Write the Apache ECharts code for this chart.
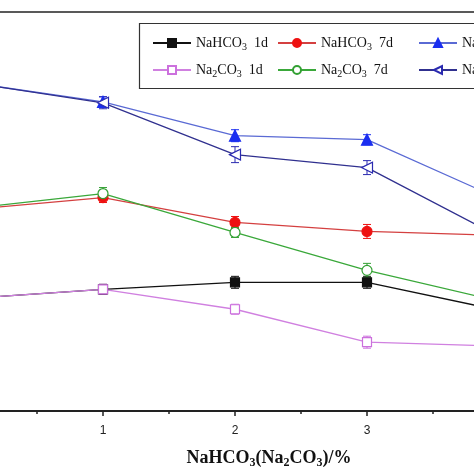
<!DOCTYPE html>
<html><head><meta charset="utf-8">
<script src="https://cdn.jsdelivr.net/npm/echarts@6/dist/echarts.min.js"></script>
<style>html,body{margin:0;padding:0;background:#fff}#c{width:474px;height:474px}</style>
</head><body><div id="c"></div>
<script>
// Data (x = dosage %, y = strength in arbitrary units)
const xValues = [0, 1, 2, 3, 4];
const xTicks = [1, 2, 3];
const xMinorTicks = [0.5, 1.5, 2.5, 3.5];
const nahco3_1d  = [11.3, 12.2, 12.9, 12.9, 10.1];
const nahco3_7d  = [20.2, 21.4, 18.9, 18.0, 17.6];
const nahco3_28d = [32.9, 31.0, 27.6, 27.2, 21.3];
const na2co3_1d  = [11.3, 12.2, 10.2, 6.9, 6.5];
const na2co3_7d  = [20.3, 21.8, 17.9, 14.1, 11.0];
const na2co3_28d = [32.9, 30.9, 25.7, 24.4, 17.5];
const err_nahco3_1d  = [0.5, 0.5, 0.6, 0.6, 0.5];
const err_nahco3_7d  = [0.5, 0.5, 0.6, 0.7, 0.5];
const err_nahco3_28d = [0.5, 0.5, 0.6, 0.5, 0.5];
const err_na2co3_1d  = [0.5, 0.5, 0.5, 0.6, 0.5];
const err_na2co3_7d  = [0.5, 0.6, 0.5, 0.7, 0.5];
const err_na2co3_28d = [0.5, 0.6, 0.8, 0.7, 0.5];
const names = ['NaHCO3 1d','NaHCO3 7d','NaHCO3 28d','Na2CO3 1d','Na2CO3 7d','Na2CO3 28d'];
const legendRich = {
  'NaHCO3 1d':  '{a|NaHCO}{s|3}{a|  1d}',
  'NaHCO3 7d':  '{a|NaHCO}{s|3}{a|  7d}',
  'NaHCO3 28d': '{a|NaHCO}{s|3}{a|  28d}',
  'Na2CO3 1d':  '{a|Na}{s|2}{a|CO}{s|3}{a|  1d}',
  'Na2CO3 7d':  '{a|Na}{s|2}{a|CO}{s|3}{a|  7d}',
  'Na2CO3 28d': '{a|Na}{s|2}{a|CO}{s|3}{a|  28d}'
};
// visible window of the x axis (the figure is a crop of a wider plot)
const xMin = 0.2197, xMax = 3.8106;

const styles = [
  {line:'#111111', mark:'#111111', sym:'rect', size:9, fill:'#111111', rot:0},
  {line:'#d44040', mark:'#ee1111', sym:'circle', size:10, fill:'#ee1111', rot:0},
  {line:'#5a6ad4', mark:'#1a2ef0', sym:'triangle', size:11, fill:'#1a2ef0', rot:0},
  {line:'#d080e0', mark:'#cc70dd', sym:'rect', size:9, fill:'#ffffff', rot:0},
  {line:'#3aa83a', mark:'#33a033', sym:'circle', size:10, fill:'#ffffff', rot:0},
  {line:'#30308f', mark:'#2a2ab0', sym:'triangle', size:11, fill:'#ffffff', rot:90}
];
const dataSets = [nahco3_1d, nahco3_7d, nahco3_28d, na2co3_1d, na2co3_7d, na2co3_28d];
const errSets = [err_nahco3_1d, err_nahco3_7d, err_nahco3_28d, err_na2co3_1d, err_na2co3_7d, err_na2co3_28d];

const series = [];
dataSets.forEach((d, i) => {
  const st = styles[i];
  series.push({
    type: 'custom', name: names[i] + ' err', silent: true, z: 3, clip: true,
    data: xValues.map((x, k) => [x, d[k], errSets[i][k]]),
    renderItem: function (params, api) {
      const x = api.value(0), y = api.value(1), e = api.value(2);
      const top = api.coord([x, y + e]);
      const bot = api.coord([x, y - e]);
      const w = 4;
      const s = {stroke: st.mark, lineWidth: 1};
      return {type: 'group', children: [
        {type:'line', shape:{x1:top[0], y1:top[1], x2:bot[0], y2:bot[1]}, style:s},
        {type:'line', shape:{x1:top[0]-w, y1:top[1], x2:top[0]+w, y2:top[1]}, style:s},
        {type:'line', shape:{x1:bot[0]-w, y1:bot[1], x2:bot[0]+w, y2:bot[1]}, style:s}
      ]};
    }
  });
  series.push({
    type: 'line', name: names[i], z: 4,
    data: xValues.map((x, k) => [x, d[k]]),
    symbol: st.sym, symbolSize: st.size, symbolRotate: st.rot,
    showAllSymbol: true, clip: true,
    lineStyle: {color: st.line, width: 1.3},
    itemStyle: {color: st.fill, borderColor: st.mark, borderWidth: 1.2},
    emphasis: {disabled: true},
    animation: false
  });
});

const legendPos = [[152, 34], [277, 34], [418, 34], [152, 61], [277, 61], [418, 61]];
const legends = names.map((n, i) => ({
  data: [n], left: legendPos[i][0], top: legendPos[i][1],
  itemWidth: 38, itemHeight: 10, itemGap: 0, padding: 0,
  formatter: nm => legendRich[nm],
  selectedMode: false,
  textStyle: {
    rich: {
      a: {fontFamily: 'Liberation Serif', fontSize: 14, color: '#111', lineHeight: 18},
      s: {fontFamily: 'Liberation Serif', fontSize: 10, color: '#111', lineHeight: 18, padding: [8, 0, 0, 0]}
    }
  }
}));

const chart = echarts.init(document.getElementById('c'), null, {renderer: 'canvas'});
chart.setOption({
  animation: false,
  backgroundColor: '#fff',
  grid: {left: 0, right: 0, top: 12, bottom: 61, show: false},
  xAxis: [{
    type: 'value', min: xMin, max: xMax,
    name: '{b|NaHCO}{t|3}{b|(Na}{t|2}{b|CO}{t|3}{b|)/%}',
    nameLocation: 'middle', nameGap: 36,
    nameTextStyle: {
      padding: [0, 0, 0, 64],
      rich: {
        b: {fontFamily: 'Liberation Serif', fontWeight: 'bold', fontSize: 18, color: '#111', lineHeight: 22},
        t: {fontFamily: 'Liberation Serif', fontWeight: 'bold', fontSize: 12, color: '#111', lineHeight: 22, padding: [10, 0, 0, 0]}
      }
    },
    axisLine: {lineStyle: {color: '#222', width: 1.8}},
    axisTick: {inside: false, length: 5, customValues: xTicks, lineStyle: {color: '#222', width: 1.5}},
    axisLabel: {margin: 14, fontFamily: 'Liberation Sans', fontSize: 12, color: '#222', customValues: xTicks,
      formatter: v => String(v)},
    splitLine: {show: false}
  }, {
    type: 'value', min: xMin, max: xMax, position: 'bottom', gridIndex: 0,
    axisLine: {show: false},
    axisTick: {inside: false, length: 3, customValues: xMinorTicks, lineStyle: {color: '#222', width: 1.5}},
    axisLabel: {show: false},
    splitLine: {show: false}
  }, {
    type: 'value', min: xMin, max: xMax, position: 'top', gridIndex: 0,
    axisLine: {show: true, lineStyle: {color: '#222', width: 1.5}},
    axisTick: {show: false},
    axisLabel: {show: false},
    splitLine: {show: false}
  }],
  yAxis: {type: 'value', min: 0, max: 40, show: false, splitLine: {show: false}},
  legend: legends,
  graphic: [{
    type: 'rect', left: 137, top: 21, z: 10,
    shape: {width: 360, height: 65},
    style: {fill: 'none', stroke: '#333', lineWidth: 1.2}
  }],
  series: series
});
</script></body></html>
